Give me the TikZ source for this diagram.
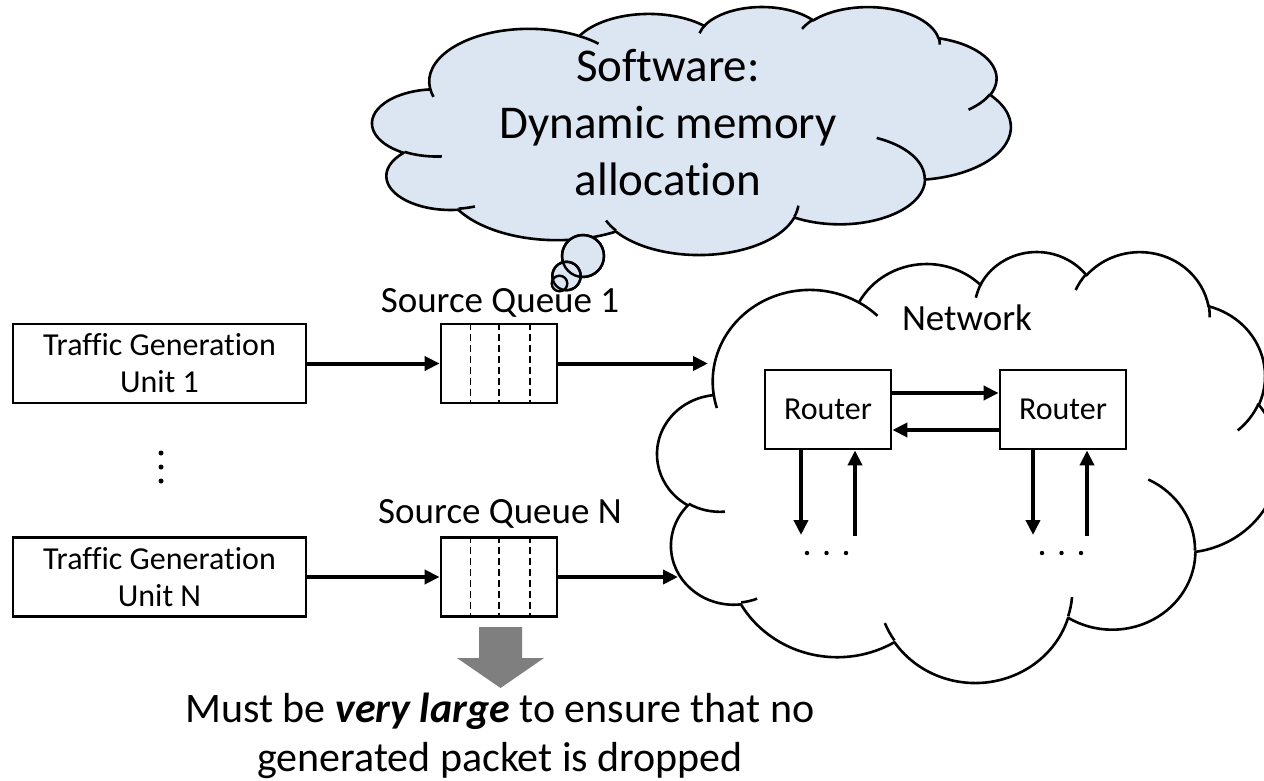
\documentclass[tikz,border=0pt]{standalone}
\usepackage{fontspec}
\setmainfont{Carlito}[Ligatures={NoCommon,NoContextual}]
\usetikzlibrary{arrows.meta,calc}
\definecolor{bubble}{HTML}{DCE6F2}
\definecolor{bigarrow}{HTML}{7F7F7F}
\newcommand\cloudoutline{(39.00,143.70)
  arc[x radius=67.53, y radius=91.90, start angle=-187.745, end angle=-59.63]
  arc[x radius=53.33, y radius=72.67, start angle=-152.02, end angle=-45.43]
  arc[x radius=43.65, y radius=59.45, start angle=-153.49, end angle=-37.32]
  arc[x radius=48.57, y radius=65.95, start angle=-139.69, end angle=-10.21]
  arc[x radius=53.33, y radius=72.73, start angle=-74.77, end angle=23.21]
  arc[x radius=67.75, y radius=92.20, start angle=-37.52, end angle=81.86]
  arc[x radius=57.85, y radius=78.67, start angle=0.4596, end angle=121.99]
  arc[x radius=67.52, y radius=92.15, start angle=16.85, end angle=146.26]
  arc[x radius=77.20, y radius=105.43, start angle=58.98, end angle=150.20]
  arc[x radius=43.60, y radius=59.18, start angle=-276.69, end angle=-136.87]
  arc[x radius=43.45, y radius=59.45, start angle=-239.64, end angle=-95.89]
  -- cycle}
\newcommand\cloudcurls{%
  (46.93,261.77) arc[x radius=43.45, y radius=59.45, start angle=85.55, end angle=120.36]
  (69.28,348.99) arc[x radius=43.60, y radius=59.18, start angle=68.24, end angle=83.31]
  (164.78,390.90) arc[x radius=67.52, y radius=92.15, start angle=146.26, end angle=158.47]
  (288.27,347.51) arc[x radius=67.52, y radius=92.15, start angle=4.738, end angle=16.85]
  (341.29,229.54) arc[x radius=57.85, y radius=78.67, start angle=-64.03, end angle=0.4596]
  (417.98,153.54) arc[x radius=53.33, y radius=72.73, start angle=23.21, end angle=49.64]
  (383.24,54.26) arc[x radius=48.57, y radius=65.95, start angle=-10.21, end angle=0.821]
  (290.78,39.52) arc[x radius=48.57, y radius=65.95, start angle=-156.28, end angle=-139.69]
  (221.41,47.20) arc[x radius=43.65, y radius=59.45, start angle=-167.73, end angle=-153.49]
  (140.00,51.92) arc[x radius=67.53, y radius=91.90, start angle=-59.63, end angle=-45.71]
  (41.27,157.89) arc[x radius=67.53, y radius=91.90, start angle=163.19, end angle=172.25]}
\begin{document}
\begin{tikzpicture}[x=1pt,y=-1pt,
  cloudline/.style={line width=2.6pt, line join=round},
  tgbox/.style={draw, line width=2.8pt, minimum width=293pt, minimum height=79pt, inner sep=0pt, align=center, font=\fontsize{32}{37}\selectfont},
  qbox/.style={draw, line width=2.8pt, minimum width=116pt, minimum height=79pt, inner sep=0pt},
  rbox/.style={draw, line width=2.8pt, minimum width=126pt, minimum height=79pt, inner sep=0pt, font=\fontsize{32}{37}\selectfont},
  lab/.style={font=\fontsize{37}{44}\selectfont, inner sep=0pt},
  conn/.style={line width=4pt, -{Triangle[length=15pt,width=14pt]}},
  slot/.style={line width=1.3pt, dash pattern=on 7pt off 4pt}]
\useasboundingbox (0,0) rectangle (1264,781);
\fill[white] (0,0) rectangle (1264,781);
% software thought cloud
\begin{scope}[shift={(372.5,6.2)}, x=1.4772pt, y=-0.5739pt]
  \filldraw[cloudline, fill=bubble] \cloudoutline;
  \draw[cloudline] \cloudcurls;
\end{scope}
\node[font=\fontsize{47}{57}\selectfont, align=center, inner sep=0pt] (sw) at (668,123) {Software:\\Dynamic memory\\allocation};
% network cloud
\begin{scope}[shift={(657.5,250.6)}, x=1.438pt, y=-0.9973pt]
  \filldraw[cloudline, fill=white] \cloudoutline;
  \draw[cloudline] \cloudcurls;
\end{scope}
\node[lab, anchor=base] (net) at (967,330) {Network};
% generation units
\node[tgbox] (tg1) at (159.5,363.5) {Traffic Generation\\Unit 1};
\node[tgbox] (tgN) at (159.5,577) {Traffic Generation\\Unit N};
\fill (161,453) circle (2.5) (161,467) circle (2.5) (161,481) circle (2.5);
% queues
\node[qbox] (q1) at (499,363.5) {};
\node[qbox] (qN) at (499,577) {};
\foreach \q in {q1,qN}{
  \foreach \f in {0.26,0.5,0.76}{
    \draw[slot] ($(\q.north west)!\f!(\q.north east)$) -- ($(\q.south west)!\f!(\q.south east)$);
  }
}
\node[lab, anchor=base] (ql1) at (500,312) {Source Queue 1};
\node[lab, anchor=base] (qlN) at (500,523) {Source Queue N};
% thought bubbles
\filldraw[line width=2.4pt, fill=bubble] (583,256) circle (21);
\filldraw[line width=2.4pt, fill=bubble] (566.5,276) circle (14.2);
\filldraw[line width=2.4pt, fill=bubble] (559.5,283.5) circle (7.8);
\draw[line width=2.4pt] (583,256) circle (21) (566.5,276) circle (14.2);
% routers
\node[rbox] (r1) at (828,409.5) {Router};
\node[rbox] (r2) at (1063,409.5) {Router};
\coordinate (d1) at (801,535);
\coordinate (u1) at (855,536);
\coordinate (d2) at (1033,535);
\coordinate (u2) at (1087,536);
\coordinate (n1) at (708,363.5);
\coordinate (nN) at (678,577);
% connectors
\draw[conn] (tg1) -- (q1);
\draw[conn] (tgN) -- (qN);
\draw[conn] (q1) -- (n1);
\draw[conn] (qN) -- (nN);
\draw[conn] ([yshift=16.5pt]r1.east) -- ([yshift=16.5pt]r2.west);
\draw[conn] ([yshift=-20.5pt]r2.west) -- ([yshift=-20.5pt]r1.east);
\draw[conn] (r1.south -| d1) -- (d1);
\draw[conn] (u1) -- (r1.south -| u1);
\draw[conn] (r2.south -| d2) -- (d2);
\draw[conn] (u2) -- (r2.south -| u2);
\fill (807,553) circle (2.2) (826.5,553) circle (2.2) (846,553) circle (2.2);
\fill (1042,553) circle (2.2) (1061.5,553) circle (2.2) (1081,553) circle (2.2);
% big gray arrow and note
\fill[bigarrow] (479,627) -- (522,627) -- (522,658) -- (544,658) -- (500.5,688) -- (457,658) -- (479,658) -- cycle;
\node[font=\fontsize{42}{49}\selectfont, align=center, inner sep=0pt] (note) at (500,736) {Must be \textbf{\textit{very large}} to ensure that no\\generated packet is dropped};
\end{tikzpicture}
\end{document}
